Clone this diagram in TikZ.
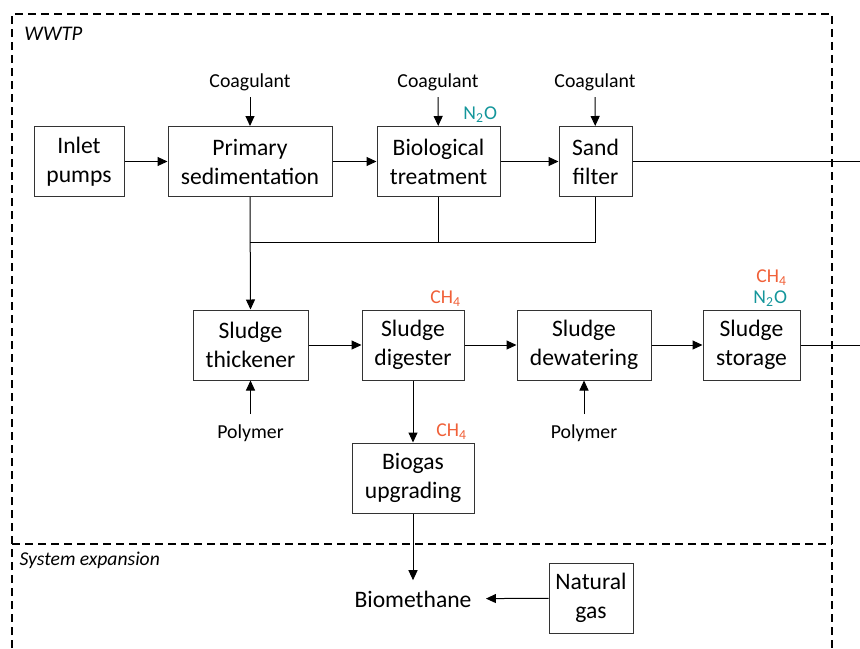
\documentclass[tikz,border=0pt]{standalone}
\usepackage{fontspec}
\setmainfont{Carlito}
\usetikzlibrary{arrows.meta}
\definecolor{chfour}{RGB}{240,96,56}
\definecolor{ntwoo}{RGB}{20,150,155}
\tikzset{
    unit/.style={draw=black!80, align=center, minimum height=35pt, inner sep=0pt,
        font=\fontsize{11.8}{14.5}\selectfont},
    feed/.style={font=\fontsize{9.9}{11}\selectfont, inner sep=1pt},
    gas/.style={font=\fontsize{9.8}{10.5}\selectfont, align=right, inner sep=1.5pt},
    flow/.style={-{Triangle[length=5pt, width=4.5pt]}},
    border/.style={dashed, dash pattern=on 4pt off 2.5pt, line width=0.9pt},
    area/.style={font=\fontsize{9.8}{11}\itshape, anchor=west, inner sep=0pt}
}
\begin{document}
\begin{tikzpicture}[x=0.5pt, y=-0.5pt, line width=0.5pt]
    \useasboundingbox (0,0) rectangle (860,648);
    \draw[border] (12,648) -- (12,14) -- (832,14) -- (832,648);
    \draw[border] (12,544) -- (832,544);
    \node[area, font=\fontsize{10.4}{12}\itshape] (wwtp) at (24,34) {WWTP};
    \node[area] (sysexp) at (19,560) {System expansion};

    \node[unit, minimum width=45pt] (inlet) at (79,161.5) {Inlet\\pumps};
    \node[unit, minimum width=82pt] (prim) at (250,161.5) {Primary\\sedimentation};
    \node[unit, minimum width=61.5pt] (bio) at (438.5,161.5) {Biological\\treatment};
    \node[unit, minimum width=36.5pt] (sand) at (595.5,161.5) {Sand\\filter};

    \node[unit, minimum width=57.5pt] (thick) at (250.5,345) {Sludge\\thickener};
    \node[unit, minimum width=51pt] (digest) at (413,345) {Sludge\\digester};
    \node[unit, minimum width=67pt] (dewater) at (584,345) {Sludge\\dewatering};
    \node[unit, minimum width=48.5pt] (storage) at (751.5,345) {Sludge\\storage};
    \node[unit, minimum width=61pt] (biogas) at (413,478) {Biogas\\upgrading};
    \node[unit, minimum width=42pt] (natgas) at (591,598) {Natural\\gas};
    \node[font=\fontsize{11.8}{14.5}\selectfont, inner xsep=7pt, inner ysep=5pt] (biometh) at (413,599) {Biomethane};

    \node[feed] (coaga) at (250,82) {Coagulant};
    \node[feed] (coagb) at (438,82) {Coagulant};
    \node[feed] (coagc) at (595,82) {Coagulant};
    \node[feed] (polya) at (250.5,433) {Polymer};
    \node[feed] (polyb) at (584,433) {Polymer};

    \node[gas, text=ntwoo, anchor=south east] (bion) at (bio.north east) {N\textsubscript{2}O};
    \node[gas, text=chfour, anchor=south east] (digch) at (digest.north east) {CH\textsubscript{4}};
    \node[gas, text=chfour, anchor=south east] (upch) at ([xshift=-2pt]biogas.north east) {CH\textsubscript{4}};
    \node[gas, anchor=south east] (stogas) at ([xshift=-5pt]storage.north east) {\textcolor{chfour}{CH\textsubscript{4}}\\\textcolor{ntwoo}{N\textsubscript{2}O}};

    \coordinate (outa) at (860,161.5);
    \coordinate (outb) at (860,345);
    \coordinate (jn) at (250,242);

    \draw[flow] (inlet) -- (prim);
    \draw[flow] (prim) -- (bio);
    \draw[flow] (bio) -- (sand);
    \draw (sand) -- (outa);
    \draw[flow] ([yshift=-2pt]coaga.south) -- (prim);
    \draw[flow] ([yshift=-2pt]coagb.south) -- (bio);
    \draw[flow] ([yshift=-2pt]coagc.south) -- (sand);

    \draw (sand.south) |- (jn);
    \draw (bio.south) -- (bio.south |- jn);
    \draw[flow] (prim.south) -- (thick.north);

    \draw[flow] (thick) -- (digest);
    \draw[flow] (digest) -- (dewater);
    \draw[flow] (dewater) -- (storage);
    \draw (storage) -- (outb);
    \draw[flow] ([yshift=4pt]polya.north) -- (thick);
    \draw[flow] ([yshift=4pt]polyb.north) -- (dewater);

    \draw[flow] (digest) -- (biogas);
    \draw[flow] (biogas) -- (biometh);
    \draw[flow] (natgas) -- (biometh);
\end{tikzpicture}
\end{document}
